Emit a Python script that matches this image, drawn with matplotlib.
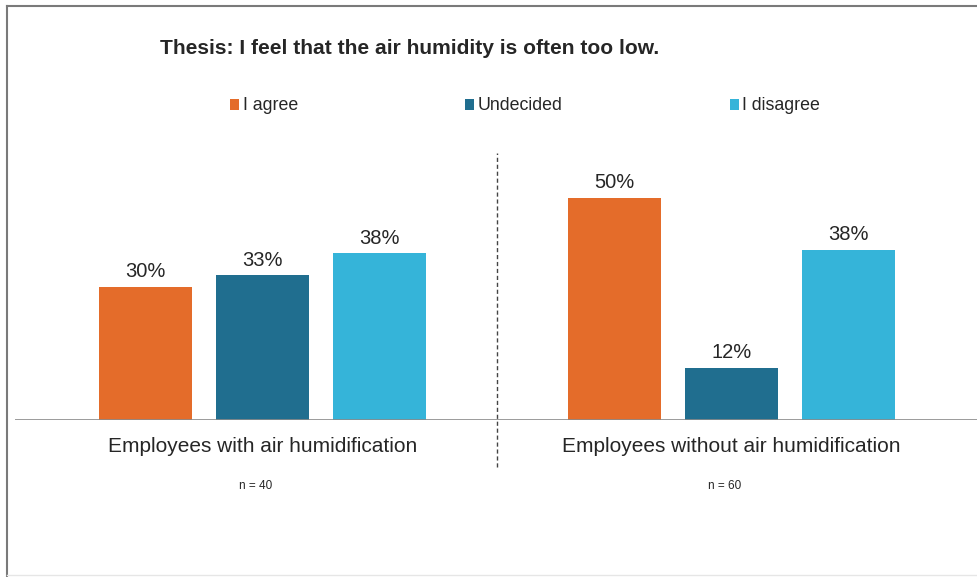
import numpy as np
import matplotlib.pyplot as plt
from matplotlib.lines import Line2D

plt.rcParams['font.family'] = ['Liberation Sans', 'DejaVu Sans']

# survey answers, share of respondents in %
groups = ['Employees with air humidification', 'Employees without air humidification']
sample_sizes = ['n = 40', 'n = 60']
answers = ['I agree', 'Undecided', 'I disagree']
agree = [30.0, 50.0]
undecided = [32.5, 11.7]
disagree = [37.5, 38.3]
value_labels = [['30%', '50%'], ['33%', '12%'], ['38%', '38%']]
colors = ['#E46C2A', '#206E8F', '#35B4D9']
text_color = '#262626'

fig = plt.figure(figsize=(9.78, 5.77), dpi=100)
ax = fig.add_axes([15 / 978, 157 / 577, 963 / 978, 290 / 577])

x = np.arange(len(groups))
pitch = 0.2495
width = 0.198
series = [agree, undecided, disagree]
for i, (vals, name, col) in enumerate(zip(series, answers, colors)):
    bars = ax.bar(x + (i - 1) * pitch, vals, width, color=col, label=name)
    for b, lab in zip(bars, value_labels[i]):
        ax.annotate(lab, (b.get_x() + b.get_width() / 2, b.get_height()),
                    xytext=(0, 4), textcoords='offset points',
                    ha='center', va='bottom', fontsize=14.5, color=text_color)

ax.set_xlim(-0.528, 1.525)
ax.set_ylim(0, 65.2)
ax.axhline(0, color='#8a8a8a', lw=1.2)
ax.axvline(0.5, ymin=-0.162, ymax=0.921, color='#444444', lw=1,
           ls=(0, (3, 2)), clip_on=False)

ax.set_xticks(x)
ax.set_xticklabels(groups, fontsize=15, color=text_color)
ax.tick_params(axis='x', length=0, pad=12.5)
ax.set_yticks([])
for s in ax.spines.values():
    s.set_visible(False)

for xi, n in zip(x, sample_sizes):
    ax.text(xi - 0.015, -0.229, n, transform=ax.get_xaxis_transform(),
            ha='center', va='center', fontsize=8.5, color=text_color)

fig.text(160 / 978, 1 - 49 / 577, 'Thesis: I feel that the air humidity is often too low.',
         fontsize=15.1, fontweight='bold', color=text_color, ha='left', va='center')

fig.legend(loc='center', bbox_to_anchor=(0.537, 1 - 106 / 577), ncol=3,
           frameon=False, fontsize=12.8, handlelength=0.5, handleheight=0.6,
           handletextpad=0.2, columnspacing=9.4, labelcolor=text_color)

# frame of the original slide
fig.add_artist(Line2D([7 / 978, 1], [1 - 6 / 577, 1 - 6 / 577], color='#7a7a7a', lw=1.5))
fig.add_artist(Line2D([7 / 978, 7 / 978], [1 / 577, 1 - 6 / 577], color='#7a7a7a', lw=1.5))
fig.add_artist(Line2D([7 / 978, 1], [2 / 577, 2 / 577], color='#e6e6e6', lw=1))

fig.savefig('out.png', dpi=100, facecolor='white')
